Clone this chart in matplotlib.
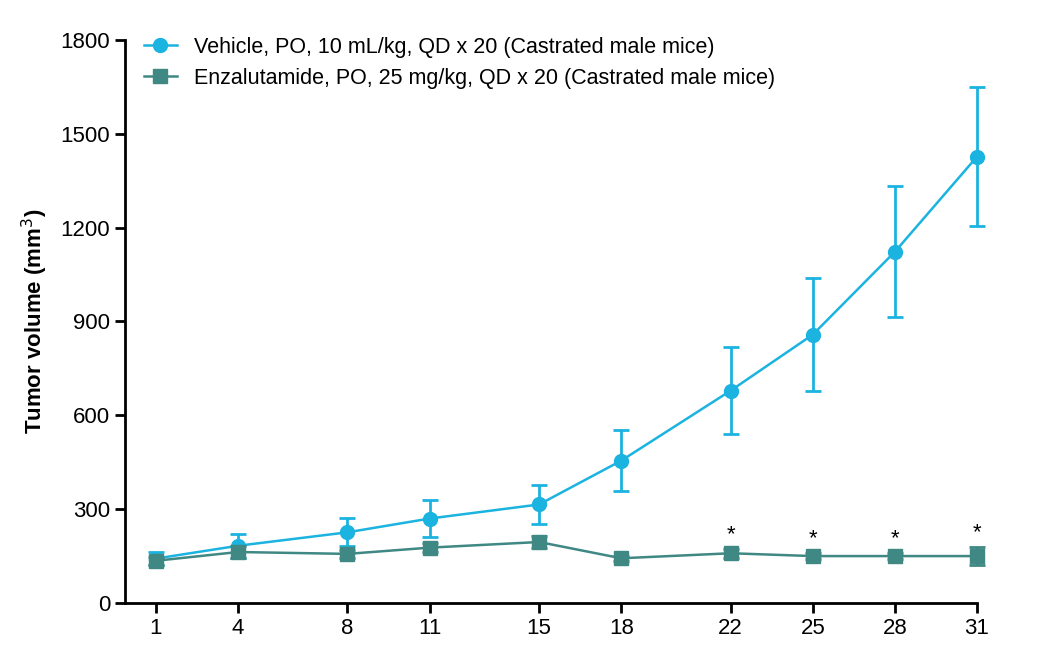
import matplotlib
matplotlib.use("Agg")
import matplotlib.pyplot as plt
from matplotlib.lines import Line2D

plt.rcParams['font.family'] = ['Liberation Sans', 'DejaVu Sans']

days = [1, 4, 8, 11, 15, 18, 22, 25, 28, 31]
veh = [142, 183, 226, 270, 315, 455, 679, 858, 1123, 1427]
veh_err = [20, 38, 45, 58, 62, 97, 140, 180, 210, 222]
enz = [135, 163, 157, 177, 195, 143, 159, 150, 150, 150]
enz_err = [12, 18, 12, 15, 18, 8, 15, 10, 10, 28]
star_days = [22, 25, 28, 31]
labels = ['Vehicle, PO, 10 mL/kg, QD x 20 (Castrated male mice)',
          'Enzalutamide, PO, 25 mg/kg, QD x 20 (Castrated male mice)']
c_veh = '#1bb3e0'
c_enz = '#3f8884'

fig = plt.figure(figsize=(10.5, 6.63), dpi=100)
ax = fig.add_axes([0.119, 0.0905, 0.8115, 0.8492])

ax.errorbar(days, veh, yerr=veh_err, color=c_veh, marker='o', ms=10, lw=1.8,
            capsize=6, capthick=2, elinewidth=2, clip_on=False, zorder=3)
ax.errorbar(days, enz, yerr=enz_err, color=c_enz, marker='s', ms=10, lw=1.8,
            capsize=6, capthick=2, elinewidth=2, clip_on=False, zorder=4)
for d in star_days:
    i = days.index(d)
    ax.text(d, enz[i] + enz_err[i] + 12, '*', ha='center', va='bottom', fontsize=16)

ax.set_xlim(-0.13, 31)
ax.set_ylim(0, 1800)
ax.set_xticks(days)
ax.set_yticks([0, 300, 600, 900, 1200, 1500, 1800])
ax.tick_params(labelsize=16, width=2, length=7)
for s in ['top', 'right']:
    ax.spines[s].set_visible(False)
for s in ['left', 'bottom']:
    ax.spines[s].set_linewidth(2)
ax.set_ylabel('Tumor volume (mm$^3$)', fontsize=16, fontweight='bold', labelpad=8)
handles = [Line2D([], [], color=c_veh, marker='o', ms=10, lw=1.8),
           Line2D([], [], color=c_enz, marker='s', ms=10, lw=1.8)]
ax.legend(handles, labels, loc='upper left', frameon=False, fontsize=15.5,
          handlelength=1.5, bbox_to_anchor=(0.0, 1.04), labelspacing=0.45)
fig.savefig('out.png', dpi=100)
